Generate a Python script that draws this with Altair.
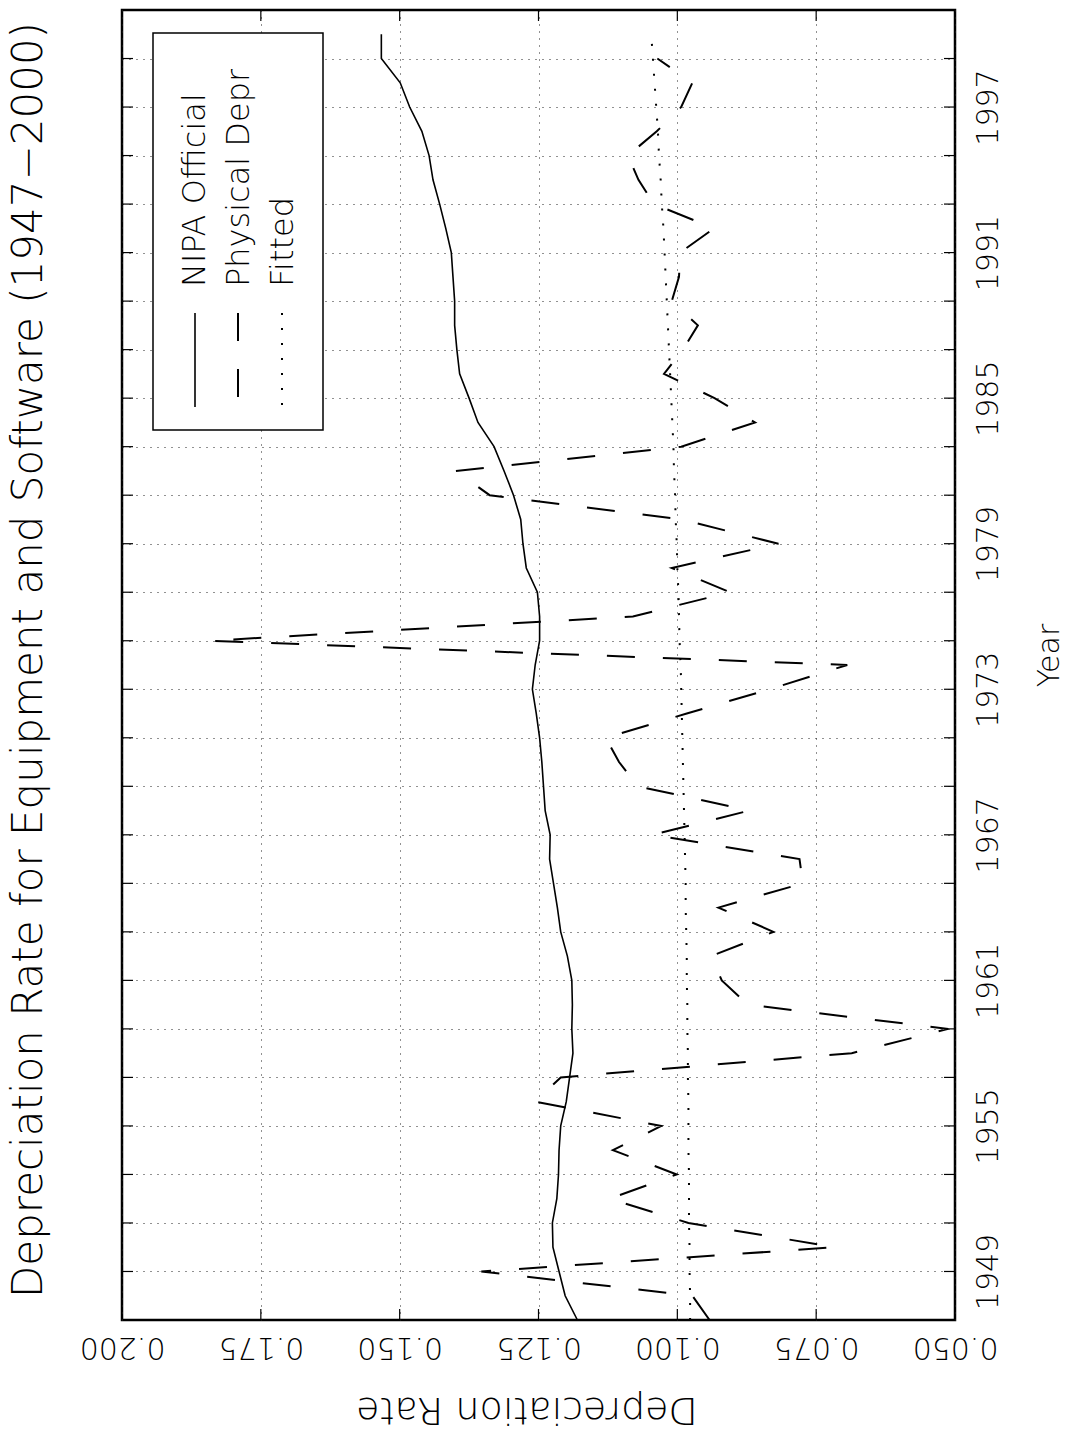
import altair as alt
import pandas as pd

# ---- data -------------------------------------------------------------
years = list(range(1947, 2001))

nipa_official = [
    0.1180, 0.1202, 0.1213, 0.1224, 0.1225, 0.1217, 0.1214, 0.1213, 0.1210, 0.1200,
    0.1194, 0.1188, 0.1190, 0.1189, 0.1190, 0.1198, 0.1210, 0.1216, 0.1223, 0.1230,
    0.1229, 0.1238, 0.1241, 0.1244, 0.1248, 0.1254, 0.1261, 0.1256, 0.1248, 0.1248,
    0.1252, 0.1272, 0.1278, 0.1282, 0.1295, 0.1312, 0.1330, 0.1359, 0.1375, 0.1392,
    0.1397, 0.1401, 0.1401, 0.1404, 0.1407, 0.1417, 0.1428, 0.1440, 0.1447, 0.1460,
    0.1482, 0.1499, 0.1533, 0.1533,
]

# physical depreciation runs 1947-1999
physical_depr = [
    0.0942, 0.0973, 0.1353, 0.0715, 0.0980, 0.1122, 0.1001, 0.1116, 0.1029, 0.1256,
    0.1210, 0.0686, 0.0512, 0.0873, 0.0920, 0.0939, 0.0827, 0.0926, 0.0774, 0.0780,
    0.1045, 0.0870, 0.1071, 0.1105, 0.1129, 0.0983, 0.0834, 0.0694, 0.1841, 0.1080,
    0.0905, 0.1010, 0.0818, 0.0993, 0.1338, 0.1399, 0.0993, 0.0860, 0.0933, 0.1024,
    0.0990, 0.0963, 0.1010, 0.0997, 0.0995, 0.0934, 0.1042, 0.1070, 0.1089, 0.1037,
    0.0993, 0.0973, 0.1036,
]

fitted = [
    0.0977, 0.0977, 0.0978, 0.0978, 0.0979, 0.0979, 0.0979, 0.0980, 0.0980, 0.0980,
    0.0981, 0.0981, 0.0982, 0.0982, 0.0983, 0.0983, 0.0984, 0.0985, 0.0985, 0.0986,
    0.0987, 0.0988, 0.0989, 0.0990, 0.0991, 0.0992, 0.0993, 0.0994, 0.0996, 0.0997,
    0.0998, 0.1000, 0.1001, 0.1003, 0.1004, 0.1006, 0.1007, 0.1009, 0.1011, 0.1013,
    0.1015, 0.1017, 0.1019, 0.1021, 0.1023, 0.1025, 0.1028, 0.1030, 0.1033, 0.1035,
    0.1038, 0.1041, 0.1044, 0.1047,
]

rate_ticks = [0.050, 0.075, 0.100, 0.125, 0.150, 0.175, 0.200]
inner_rate_ticks = [0.075, 0.100, 0.125, 0.150, 0.175]
year_ticks = list(range(1949, 2000, 2))

legend_labels = ["NIPA Official", "Physical Depr", "Fitted"]
title_text = ["Depreciation Rate for Equipment and Software (1947\u22122000)"]

# ---- layout / style ---------------------------------------------------
W, H = 833, 1310
FONT = "DejaVu Sans"
WEIGHT = 200
TICK = 11

x_scale = alt.Scale(domain=[0.05, 0.2], reverse=True, nice=False, zero=False)
y_scale = alt.Scale(domain=[1947, 2001], nice=False, zero=False)

x_axis = alt.Axis(
    values=rate_ticks, format=".3f",
    grid=True, gridDash=[1, 6], gridColor="#222", gridWidth=1,
    ticks=False, domain=False,
    labelAngle=180, labelAlign="center", labelBaseline="alphabetic",
    labelPadding=17, labelFontSize=30, labelFont=FONT, labelFontWeight=WEIGHT,
    labelColor="black", labelFlush=False, labelOverlap=False,
    title="Depreciation Rate", titleAngle=180, titleAlign="center",
    titleBaseline="alphabetic", titleX=W / 2 - 12, titleY=77,
    titleFontSize=38, titleFont=FONT, titleFontWeight=WEIGHT, titleColor="black",
)

y_axis = alt.Axis(
    orient="right", values=year_ticks, format="d",
    labelExpr="(datum.value - 1949) % 6 == 0 ? datum.label : ''",
    grid=True, gridDash=[1, 6], gridColor="#222", gridWidth=1,
    ticks=False, domain=False,
    labelAngle=270, labelAlign="center", labelBaseline="alphabetic",
    labelPadding=42, labelFontSize=30, labelFont=FONT, labelFontWeight=WEIGHT,
    labelColor="black", labelFlush=False, labelOverlap=False,
    title="Year", titleAngle=270, titleAlign="center", titleBaseline="alphabetic",
    titleX=103, titleY=645, titleFontSize=30, titleFont=FONT,
    titleFontWeight=WEIGHT, titleColor="black",
)

X = alt.X("rate:Q", scale=x_scale, axis=x_axis)
Y = alt.Y("year:Q", scale=y_scale, axis=y_axis)


def series_layer(values, **mark):
    df = pd.DataFrame({"year": years[: len(values)], "rate": values})
    return alt.Chart(df).mark_line(color="black", **mark).encode(
        x=X, y=Y, order=alt.Order("year:Q"),
    )


nipa_line = series_layer(nipa_official, strokeWidth=1.6)
phys_line = series_layer(physical_depr, strokeWidth=2, strokeDash=[28, 28])
fit_line = series_layer(fitted, strokeWidth=2, strokeDash=[2, 13])

# inward tick marks on all four sides of the frame
rate_df = pd.DataFrame({"rate": inner_rate_ticks})
year_df = pd.DataFrame({"year": year_ticks})
tick_rule = dict(color="black", strokeWidth=1.2)
ticks_bottom = alt.Chart(rate_df).mark_rule(**tick_rule).encode(
    x=X, y=alt.value(H), y2=alt.value(H - TICK))
ticks_top = alt.Chart(rate_df).mark_rule(**tick_rule).encode(
    x=X, y=alt.value(0), y2=alt.value(TICK))
ticks_right = alt.Chart(year_df).mark_rule(**tick_rule).encode(
    y=Y, x=alt.value(W), x2=alt.value(W - TICK))
ticks_left = alt.Chart(year_df).mark_rule(**tick_rule).encode(
    y=Y, x=alt.value(0), x2=alt.value(TICK))

# legend box with vertical key lines and rotated labels
one = pd.DataFrame({"k": [0]})
legend_box = alt.Chart(one).mark_rect(
    fill="white", stroke="black", strokeWidth=1.5
).encode(x=alt.value(31), x2=alt.value(201), y=alt.value(23), y2=alt.value(420))


def legend_entry(label, line_x, text_x, **mark):
    key = alt.Chart(one).mark_rule(color="black", **mark).encode(
        x=alt.value(line_x), y=alt.value(303), y2=alt.value(397))
    txt = alt.Chart(pd.DataFrame({"label": [label]})).mark_text(
        angle=270, align="left", baseline="alphabetic",
        fontSize=32, font=FONT, fontWeight=WEIGHT, color="black",
    ).encode(text="label:N", x=alt.value(text_x), y=alt.value(277))
    return [key, txt]


legend_layers = (
    legend_entry(legend_labels[0], 73, 83, strokeWidth=1.6)
    + legend_entry(legend_labels[1], 116, 127, strokeWidth=2, strokeDash=[28, 28])
    + legend_entry(legend_labels[2], 160, 171, strokeWidth=2, strokeDash=[2, 13])
)

# chart title, reading upward along the left edge
title_layer = alt.Chart(pd.DataFrame({"t": title_text})).mark_text(
    angle=270, align="center", baseline="alphabetic",
    fontSize=42, font=FONT, fontWeight=WEIGHT, color="black",
).encode(text="t:N", x=alt.value(-80), y=alt.value(650))

chart = alt.layer(
    nipa_line, phys_line, fit_line,
    ticks_bottom, ticks_top, ticks_right, ticks_left,
    legend_box, *legend_layers, title_layer,
).properties(
    width=W, height=H,
    autosize=alt.AutoSizeParams(type="none"),
    padding={"left": 122, "top": 10, "right": 110, "bottom": 111},
).configure_view(stroke="black", strokeWidth=2.5)

chart.save("out.html", embed_options={"renderer": "svg", "actions": False})
